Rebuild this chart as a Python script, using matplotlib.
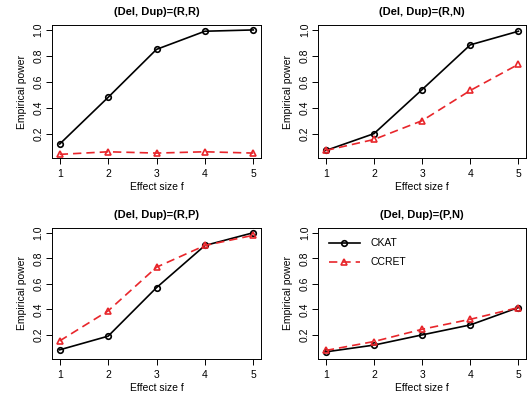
import matplotlib
matplotlib.use("Agg")
import matplotlib.pyplot as plt

plt.rcParams['font.family'] = ['Liberation Sans', 'DejaVu Sans']

effect = [1, 2, 3, 4, 5]
titles = ['(Del, Dup)=(R,R)', '(Del, Dup)=(R,N)', '(Del, Dup)=(R,P)', '(Del, Dup)=(P,N)']

ckat_rr = [0.12, 0.48, 0.85, 0.99, 1.0]
ccret_rr = [0.04, 0.06, 0.05, 0.06, 0.05]
ckat_rn = [0.07, 0.20, 0.54, 0.885, 0.99]
ccret_rn = [0.07, 0.155, 0.30, 0.533, 0.735]
ckat_rp = [0.083, 0.19, 0.57, 0.90, 1.0]
ccret_rp = [0.153, 0.388, 0.73, 0.90, 0.98]
ckat_pn = [0.067, 0.12, 0.20, 0.278, 0.414]
ccret_pn = [0.078, 0.148, 0.244, 0.322, 0.414]

ckat = [ckat_rr, ckat_rn, ckat_rp, ckat_pn]
ccret = [ccret_rr, ccret_rn, ccret_rp, ccret_pn]

red = '#E8262B'
fig = plt.figure(figsize=(5.32, 3.97), dpi=100)

# axes boxes: left, bottom, width, height
boxes = [
    [0.0977, 0.602, 0.393, 0.335],
    [0.598, 0.602, 0.391, 0.335],
    [0.0977, 0.096, 0.393, 0.330],
    [0.598, 0.096, 0.391, 0.330],
]

for i in range(4):
    ax = fig.add_axes(boxes[i])
    ax.plot(effect, ckat[i], color='black', lw=1.2, marker='o', ms=4,
            mfc='none', mec='black', mew=1.2, label='CKAT')
    ax.plot(effect, ccret[i], color=red, lw=1.2, ls=(0, (5, 3)), marker='^', ms=5,
            mfc='none', mec=red, mew=1.2, label='CCRET')
    ax.set_xlim(0.84, 5.16)
    ax.set_ylim(0.012, 1.038)
    ax.set_xticks(effect)
    ax.set_yticks([0.2, 0.4, 0.6, 0.8, 1.0])
    ax.set_yticklabels(['0.2', '0.4', '0.6', '0.8', '1.0'], rotation=90, va='center')
    ax.tick_params(labelsize=7.5, length=4, width=0.7)
    ax.tick_params(axis='x', pad=4)
    ax.tick_params(axis='y', pad=2)
    for s in ax.spines.values():
        s.set_linewidth(0.7)
    ax.set_title(titles[i], fontsize=8, fontweight='bold', pad=7)
    ax.set_xlabel('Effect size f', fontsize=7.5, labelpad=2)
    ax.set_ylabel('Empirical power', fontsize=7.5, labelpad=5)
    if i == 3:
        ax.legend(loc='upper left', frameon=False, fontsize=7.5, handlelength=3.0,
                  borderaxespad=0.6, borderpad=0.4, labelspacing=0.85,
                  handletextpad=1.0)

fig.savefig('out.png', dpi=100)
